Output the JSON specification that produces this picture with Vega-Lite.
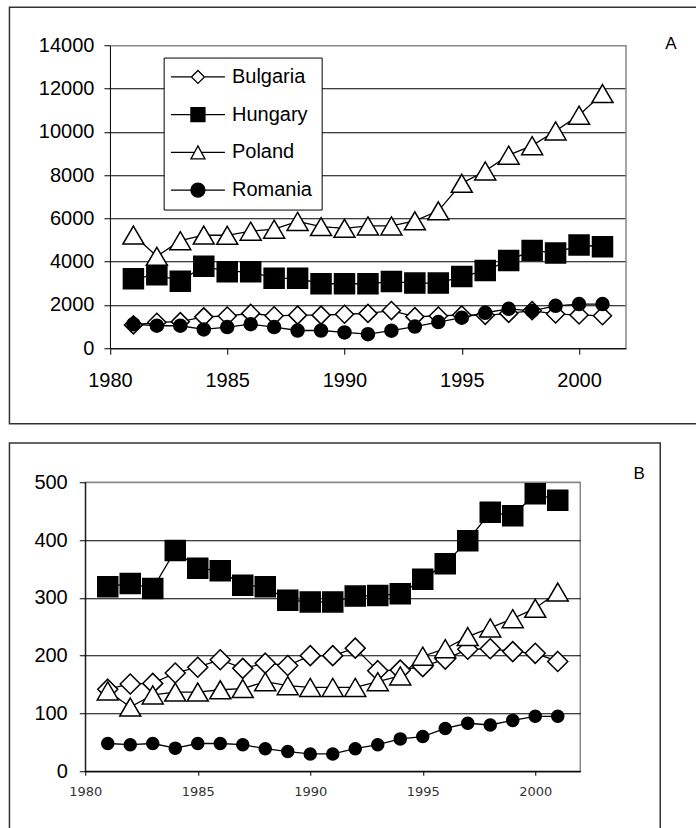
{
  "$schema": "https://vega.github.io/schema/vega-lite/v6.json",
  "padding": {"left": 7.25, "top": 6.25, "right": 0, "bottom": 0},
  "autosize": {"type": "pad"},
  "background": "white",
  "spacing": 16,
  "config": {
    "font": "Liberation Sans",
    "view": {"stroke": "#888888", "strokeWidth": 1.5},
    "axis": {"domainColor": "black", "domainWidth": 1, "tickColor": "black", "tickWidth": 1, "labelColor": "black", "labelFont": "Liberation Sans", "labelFontSize": 20, "gridColor": "black", "gridWidth": 1, "labelFlush": false, "labelOverlap": false}
  },
  "datasets": {
    "a": [
      {"country": "Bulgaria", "year": 1981, "value": 1080}, {"country": "Bulgaria", "year": 1982, "value": 1200}, {"country": "Bulgaria", "year": 1983, "value": 1230}, {"country": "Bulgaria", "year": 1984, "value": 1450}, {"country": "Bulgaria", "year": 1985, "value": 1490}, {"country": "Bulgaria", "year": 1986, "value": 1610}, {"country": "Bulgaria", "year": 1987, "value": 1500}, {"country": "Bulgaria", "year": 1988, "value": 1530}, {"country": "Bulgaria", "year": 1989, "value": 1530}, {"country": "Bulgaria", "year": 1990, "value": 1570}, {"country": "Bulgaria", "year": 1991, "value": 1610}, {"country": "Bulgaria", "year": 1992, "value": 1740}, {"country": "Bulgaria", "year": 1993, "value": 1460}, {"country": "Bulgaria", "year": 1994, "value": 1490}, {"country": "Bulgaria", "year": 1995, "value": 1540}, {"country": "Bulgaria", "year": 1996, "value": 1520}, {"country": "Bulgaria", "year": 1997, "value": 1610}, {"country": "Bulgaria", "year": 1998, "value": 1740}, {"country": "Bulgaria", "year": 1999, "value": 1580}, {"country": "Bulgaria", "year": 2000, "value": 1540}, {"country": "Bulgaria", "year": 2001, "value": 1500},
      {"country": "Hungary", "year": 1981, "value": 3210}, {"country": "Hungary", "year": 1982, "value": 3400}, {"country": "Hungary", "year": 1983, "value": 3100}, {"country": "Hungary", "year": 1984, "value": 3790}, {"country": "Hungary", "year": 1985, "value": 3540}, {"country": "Hungary", "year": 1986, "value": 3540}, {"country": "Hungary", "year": 1987, "value": 3230}, {"country": "Hungary", "year": 1988, "value": 3230}, {"country": "Hungary", "year": 1989, "value": 2980}, {"country": "Hungary", "year": 1990, "value": 2980}, {"country": "Hungary", "year": 1991, "value": 2980}, {"country": "Hungary", "year": 1992, "value": 3080}, {"country": "Hungary", "year": 1993, "value": 3010}, {"country": "Hungary", "year": 1994, "value": 3010}, {"country": "Hungary", "year": 1995, "value": 3310}, {"country": "Hungary", "year": 1996, "value": 3590}, {"country": "Hungary", "year": 1997, "value": 4050}, {"country": "Hungary", "year": 1998, "value": 4520}, {"country": "Hungary", "year": 1999, "value": 4400}, {"country": "Hungary", "year": 2000, "value": 4770}, {"country": "Hungary", "year": 2001, "value": 4690},
      {"country": "Poland", "year": 1981, "value": 5230}, {"country": "Poland", "year": 1982, "value": 4250}, {"country": "Poland", "year": 1983, "value": 4970}, {"country": "Poland", "year": 1984, "value": 5230}, {"country": "Poland", "year": 1985, "value": 5220}, {"country": "Poland", "year": 1986, "value": 5410}, {"country": "Poland", "year": 1987, "value": 5500}, {"country": "Poland", "year": 1988, "value": 5860}, {"country": "Poland", "year": 1989, "value": 5620}, {"country": "Poland", "year": 1990, "value": 5540}, {"country": "Poland", "year": 1991, "value": 5650}, {"country": "Poland", "year": 1992, "value": 5650}, {"country": "Poland", "year": 1993, "value": 5890}, {"country": "Poland", "year": 1994, "value": 6350}, {"country": "Poland", "year": 1995, "value": 7620}, {"country": "Poland", "year": 1996, "value": 8190}, {"country": "Poland", "year": 1997, "value": 8920}, {"country": "Poland", "year": 1998, "value": 9360}, {"country": "Poland", "year": 1999, "value": 10040}, {"country": "Poland", "year": 2000, "value": 10770}, {"country": "Poland", "year": 2001, "value": 11770},
      {"country": "Romania", "year": 1981, "value": 1110}, {"country": "Romania", "year": 1982, "value": 1040}, {"country": "Romania", "year": 1983, "value": 1040}, {"country": "Romania", "year": 1984, "value": 870}, {"country": "Romania", "year": 1985, "value": 980}, {"country": "Romania", "year": 1986, "value": 1110}, {"country": "Romania", "year": 1987, "value": 980}, {"country": "Romania", "year": 1988, "value": 820}, {"country": "Romania", "year": 1989, "value": 820}, {"country": "Romania", "year": 1990, "value": 730}, {"country": "Romania", "year": 1991, "value": 650}, {"country": "Romania", "year": 1992, "value": 810}, {"country": "Romania", "year": 1993, "value": 1000}, {"country": "Romania", "year": 1994, "value": 1210}, {"country": "Romania", "year": 1995, "value": 1410}, {"country": "Romania", "year": 1996, "value": 1640}, {"country": "Romania", "year": 1997, "value": 1820}, {"country": "Romania", "year": 1998, "value": 1730}, {"country": "Romania", "year": 1999, "value": 1960}, {"country": "Romania", "year": 2000, "value": 2040}, {"country": "Romania", "year": 2001, "value": 2040}
    ],
    "b": [
      {"country": "Bulgaria", "year": 1981, "value": 142}, {"country": "Bulgaria", "year": 1982, "value": 151}, {"country": "Bulgaria", "year": 1983, "value": 152}, {"country": "Bulgaria", "year": 1984, "value": 170}, {"country": "Bulgaria", "year": 1985, "value": 180}, {"country": "Bulgaria", "year": 1986, "value": 193}, {"country": "Bulgaria", "year": 1987, "value": 178}, {"country": "Bulgaria", "year": 1988, "value": 187}, {"country": "Bulgaria", "year": 1989, "value": 183}, {"country": "Bulgaria", "year": 1990, "value": 200}, {"country": "Bulgaria", "year": 1991, "value": 200}, {"country": "Bulgaria", "year": 1992, "value": 213}, {"country": "Bulgaria", "year": 1993, "value": 174}, {"country": "Bulgaria", "year": 1994, "value": 175}, {"country": "Bulgaria", "year": 1995, "value": 181}, {"country": "Bulgaria", "year": 1996, "value": 194}, {"country": "Bulgaria", "year": 1997, "value": 211}, {"country": "Bulgaria", "year": 1998, "value": 212}, {"country": "Bulgaria", "year": 1999, "value": 207}, {"country": "Bulgaria", "year": 2000, "value": 204}, {"country": "Bulgaria", "year": 2001, "value": 190},
      {"country": "Hungary", "year": 1981, "value": 319}, {"country": "Hungary", "year": 1982, "value": 325}, {"country": "Hungary", "year": 1983, "value": 316}, {"country": "Hungary", "year": 1984, "value": 382}, {"country": "Hungary", "year": 1985, "value": 351}, {"country": "Hungary", "year": 1986, "value": 347}, {"country": "Hungary", "year": 1987, "value": 322}, {"country": "Hungary", "year": 1988, "value": 319}, {"country": "Hungary", "year": 1989, "value": 296}, {"country": "Hungary", "year": 1990, "value": 293}, {"country": "Hungary", "year": 1991, "value": 293}, {"country": "Hungary", "year": 1992, "value": 303}, {"country": "Hungary", "year": 1993, "value": 304}, {"country": "Hungary", "year": 1994, "value": 307}, {"country": "Hungary", "year": 1995, "value": 332}, {"country": "Hungary", "year": 1996, "value": 359}, {"country": "Hungary", "year": 1997, "value": 399}, {"country": "Hungary", "year": 1998, "value": 448}, {"country": "Hungary", "year": 1999, "value": 442}, {"country": "Hungary", "year": 2000, "value": 480}, {"country": "Hungary", "year": 2001, "value": 469},
      {"country": "Poland", "year": 1981, "value": 139}, {"country": "Poland", "year": 1982, "value": 111}, {"country": "Poland", "year": 1983, "value": 132}, {"country": "Poland", "year": 1984, "value": 137}, {"country": "Poland", "year": 1985, "value": 137}, {"country": "Poland", "year": 1986, "value": 141}, {"country": "Poland", "year": 1987, "value": 143}, {"country": "Poland", "year": 1988, "value": 155}, {"country": "Poland", "year": 1989, "value": 148}, {"country": "Poland", "year": 1990, "value": 145}, {"country": "Poland", "year": 1991, "value": 145}, {"country": "Poland", "year": 1992, "value": 145}, {"country": "Poland", "year": 1993, "value": 155}, {"country": "Poland", "year": 1994, "value": 165}, {"country": "Poland", "year": 1995, "value": 199}, {"country": "Poland", "year": 1996, "value": 212}, {"country": "Poland", "year": 1997, "value": 233}, {"country": "Poland", "year": 1998, "value": 248}, {"country": "Poland", "year": 1999, "value": 264}, {"country": "Poland", "year": 2000, "value": 282}, {"country": "Poland", "year": 2001, "value": 310},
      {"country": "Romania", "year": 1981, "value": 48}, {"country": "Romania", "year": 1982, "value": 46}, {"country": "Romania", "year": 1983, "value": 48}, {"country": "Romania", "year": 1984, "value": 40}, {"country": "Romania", "year": 1985, "value": 48}, {"country": "Romania", "year": 1986, "value": 48}, {"country": "Romania", "year": 1987, "value": 46}, {"country": "Romania", "year": 1988, "value": 39}, {"country": "Romania", "year": 1989, "value": 34}, {"country": "Romania", "year": 1990, "value": 30}, {"country": "Romania", "year": 1991, "value": 30}, {"country": "Romania", "year": 1992, "value": 39}, {"country": "Romania", "year": 1993, "value": 46}, {"country": "Romania", "year": 1994, "value": 56}, {"country": "Romania", "year": 1995, "value": 60}, {"country": "Romania", "year": 1996, "value": 74}, {"country": "Romania", "year": 1997, "value": 83}, {"country": "Romania", "year": 1998, "value": 80}, {"country": "Romania", "year": 1999, "value": 88}, {"country": "Romania", "year": 2000, "value": 95}, {"country": "Romania", "year": 2001, "value": 95}
    ]
  },
  "vconcat": [
    {
      "width": 540.7,
      "height": 303,
      "view": {"stroke": null},
      "data": {"name": "a"},
      "layer": [
        {
          "data": {"values": [{"label": "A"}]},
          "mark": {"type": "rect", "filled": false, "stroke": "#333333", "strokeWidth": 1.5, "clip": false},
          "encoding": {
            "x": {"datum": 1975.715, "type": "quantitative"},
            "x2": {"datum": 2005.112},
            "y": {"datum": 15755, "type": "quantitative"},
            "y2": {"datum": -3488}
          }
        },
        {
          "data": {"values": [{"label": "A"}]},
          "mark": {"type": "rule", "color": "#888888", "strokeWidth": 1.5},
          "encoding": {
            "x": {"datum": 2002, "type": "quantitative"},
            "y": {"datum": 0, "type": "quantitative"},
            "y2": {"datum": 14000}
          }
        },
        {
          "data": {"values": [{"label": "A"}]},
          "mark": {"type": "text", "font": "Liberation Sans", "fontSize": 17, "color": "black", "baseline": "alphabetic", "align": "center", "clip": false},
          "encoding": {
            "x": {"datum": 2003.918, "type": "quantitative"},
            "y": {"datum": 13847, "type": "quantitative"},
            "text": {"field": "label"}
          }
        },
        {
          "mark": {"type": "line", "color": "black", "strokeWidth": 1.3},
          "encoding": {
            "x": {"field": "year", "type": "quantitative", "scale": {"domain": [1980, 2002], "range": [24.7, 540.7], "nice": false, "zero": false}, "axis": {"title": null, "values": [1980, 1985, 1990, 1995, 2000], "format": "d", "tickSize": 6, "labelPadding": 16, "grid": false}},
            "y": {"field": "value", "type": "quantitative", "scale": {"domain": [0, 14000], "nice": false, "zero": true}, "axis": {"title": null, "offset": -24.7, "values": [0, 2000, 4000, 6000, 8000, 10000, 12000, 14000], "format": "d", "tickSize": 6, "labelPadding": 10, "grid": true, "gridColor": {"condition": {"test": "datum.value === 14000", "value": "#888888"}, "value": "black"}, "gridWidth": {"condition": {"test": "datum.value === 14000", "value": 1.5}, "value": 1}}},
            "detail": {"field": "country", "type": "nominal"}
          }
        },
        {
          "transform": [{"filter": "datum.country === 'Bulgaria'"}],
          "mark": {"type": "point", "shape": "M0,-9L9,0L0,9L-9,0Z", "size": 4, "filled": true, "fill": "white", "stroke": "black", "strokeWidth": 1.5, "opacity": 1},
          "encoding": {"x": {"field": "year", "type": "quantitative"}, "y": {"field": "value", "type": "quantitative"}}
        },
        {
          "transform": [{"filter": "datum.country === 'Hungary'"}],
          "mark": {"type": "point", "shape": "M-10,-10H10V10H-10Z", "size": 4, "filled": true, "fill": "black", "stroke": "black", "strokeWidth": 1.5, "opacity": 1},
          "encoding": {"x": {"field": "year", "type": "quantitative"}, "y": {"field": "value", "type": "quantitative"}}
        },
        {
          "transform": [{"filter": "datum.country === 'Poland'"}],
          "mark": {"type": "point", "shape": "M0,-9L10.5,9L-10.5,9Z", "size": 4, "filled": true, "fill": "white", "stroke": "black", "strokeWidth": 1.5, "opacity": 1},
          "encoding": {"x": {"field": "year", "type": "quantitative"}, "y": {"field": "value", "type": "quantitative"}}
        },
        {
          "transform": [{"filter": "datum.country === 'Romania'"}],
          "mark": {"type": "point", "shape": "M-6.5,0A6.5,6.5 0 1,1 6.5,0A6.5,6.5 0 1,1 -6.5,0Z", "size": 4, "filled": true, "fill": "black", "stroke": "black", "strokeWidth": 1.5, "opacity": 1},
          "encoding": {"x": {"field": "year", "type": "quantitative"}, "y": {"field": "value", "type": "quantitative"}}
        },
        {
          "transform": [{"filter": "false"}],
          "mark": {"type": "point", "size": 4, "filled": true, "strokeWidth": 1.3, "opacity": 1},
          "encoding": {
            "x": {"field": "year", "type": "quantitative"},
            "y": {"field": "value", "type": "quantitative"},
            "fill": {"field": "country", "type": "nominal", "scale": {"domain": ["Bulgaria", "Hungary", "Poland", "Romania"], "range": ["white", "black", "white", "black"]}, "legend": null},
            "stroke": {"field": "country", "type": "nominal", "scale": {"domain": ["Bulgaria", "Hungary", "Poland", "Romania"], "range": ["black", "black", "black", "black"]}, "legend": null},
            "shape": {
              "field": "country", "type": "nominal",
              "scale": {"domain": ["Bulgaria", "Hungary", "Poland", "Romania"], "range": [
                "M-27,0H-6.5M6.5,0H27M0,-6.5L6.5,0L0,6.5L-6.5,0Z",
                "M-27,0H-7M7,0H27M-7,-7H7V7H-7Z",
                "M-27,0H-3.5M3.5,0H27M0,-6.5L7,6.5L-7,6.5Z",
                "M-27,0H-7M7,0H27M-7,0A7,7 0 1,1 7,0A7,7 0 1,1 -7,0Z"
              ]},
              "legend": {
                "title": null, "orient": "none", "legendX": 78.4, "legendY": 12.3, "direction": "vertical",
                "padding": 9.4, "strokeColor": "black", "fillColor": "white",
                "labelFont": "Liberation Sans", "labelFontSize": 20, "labelColor": "black", "labelLimit": 300,
                "labelOffset": 24, "symbolOffset": 14.9, "rowPadding": 17.7, "symbolSize": 4,
                "symbolStrokeWidth": 1.3
              }
            }
          }
        }
      ]
    },
    {
      "width": 495,
      "height": 289,
      "data": {"name": "b"},
      "layer": [
        {
          "data": {"values": [{"label": "B"}]},
          "mark": {"type": "rect", "filled": false, "stroke": "#333333", "strokeWidth": 1.5, "clip": false},
          "encoding": {
            "x": {"datum": 1976.631, "type": "quantitative"},
            "x2": {"datum": 2005.556},
            "y": {"datum": 568, "type": "quantitative"},
            "y2": {"datum": -103.3}
          }
        },
        {
          "data": {"values": [{"label": "B"}]},
          "mark": {"type": "text", "font": "Liberation Sans", "fontSize": 17, "color": "black", "baseline": "alphabetic", "align": "center", "clip": false},
          "encoding": {
            "x": {"datum": 2004.62, "type": "quantitative"},
            "y": {"datum": 505.7, "type": "quantitative"},
            "text": {"field": "label"}
          }
        },
        {
          "mark": {"type": "line", "color": "black", "strokeWidth": 1.3},
          "encoding": {
            "x": {"field": "year", "type": "quantitative", "scale": {"domain": [1980, 2002], "nice": false, "zero": false}, "axis": {"title": null, "values": [1980, 1985, 1990, 1995, 2000], "format": "d", "tickSize": 4, "labelPadding": 10.5, "grid": false, "labelFont": "DejaVu Sans", "labelFontSize": 13, "labelColor": "#333333"}},
            "y": {"field": "value", "type": "quantitative", "scale": {"domain": [0, 500], "nice": false, "zero": true}, "axis": {"title": null, "values": [0, 100, 200, 300, 400, 500], "format": "d", "tickSize": 6, "labelPadding": 12, "grid": true, "gridColor": {"condition": {"test": "datum.value === 500", "value": "#888888"}, "value": "black"}}},
            "detail": {"field": "country", "type": "nominal"}
          }
        },
        {
          "transform": [{"filter": "datum.country === 'Bulgaria'"}],
          "mark": {"type": "point", "shape": "M0,-10L10,0L0,10L-10,0Z", "size": 4, "filled": true, "fill": "white", "stroke": "black", "strokeWidth": 1.5, "opacity": 1},
          "encoding": {"x": {"field": "year", "type": "quantitative"}, "y": {"field": "value", "type": "quantitative"}}
        },
        {
          "transform": [{"filter": "datum.country === 'Hungary'"}],
          "mark": {"type": "point", "shape": "M-10,-10H10V10H-10Z", "size": 4, "filled": true, "fill": "black", "stroke": "black", "strokeWidth": 1.5, "opacity": 1},
          "encoding": {"x": {"field": "year", "type": "quantitative"}, "y": {"field": "value", "type": "quantitative"}}
        },
        {
          "transform": [{"filter": "datum.country === 'Poland'"}],
          "mark": {"type": "point", "shape": "M0,-9L10.5,9L-10.5,9Z", "size": 4, "filled": true, "fill": "white", "stroke": "black", "strokeWidth": 1.5, "opacity": 1},
          "encoding": {"x": {"field": "year", "type": "quantitative"}, "y": {"field": "value", "type": "quantitative"}}
        },
        {
          "transform": [{"filter": "datum.country === 'Romania'"}],
          "mark": {"type": "point", "shape": "M-6,0A6,6 0 1,1 6,0A6,6 0 1,1 -6,0Z", "size": 4, "filled": true, "fill": "black", "stroke": "black", "strokeWidth": 1.5, "opacity": 1},
          "encoding": {"x": {"field": "year", "type": "quantitative"}, "y": {"field": "value", "type": "quantitative"}}
        }
      ]
    }
  ],
  "resolve": {"scale": {"x": "independent", "y": "independent", "shape": "independent", "fill": "independent", "stroke": "independent"}, "legend": {"shape": "independent", "fill": "independent", "stroke": "independent"}}
}
